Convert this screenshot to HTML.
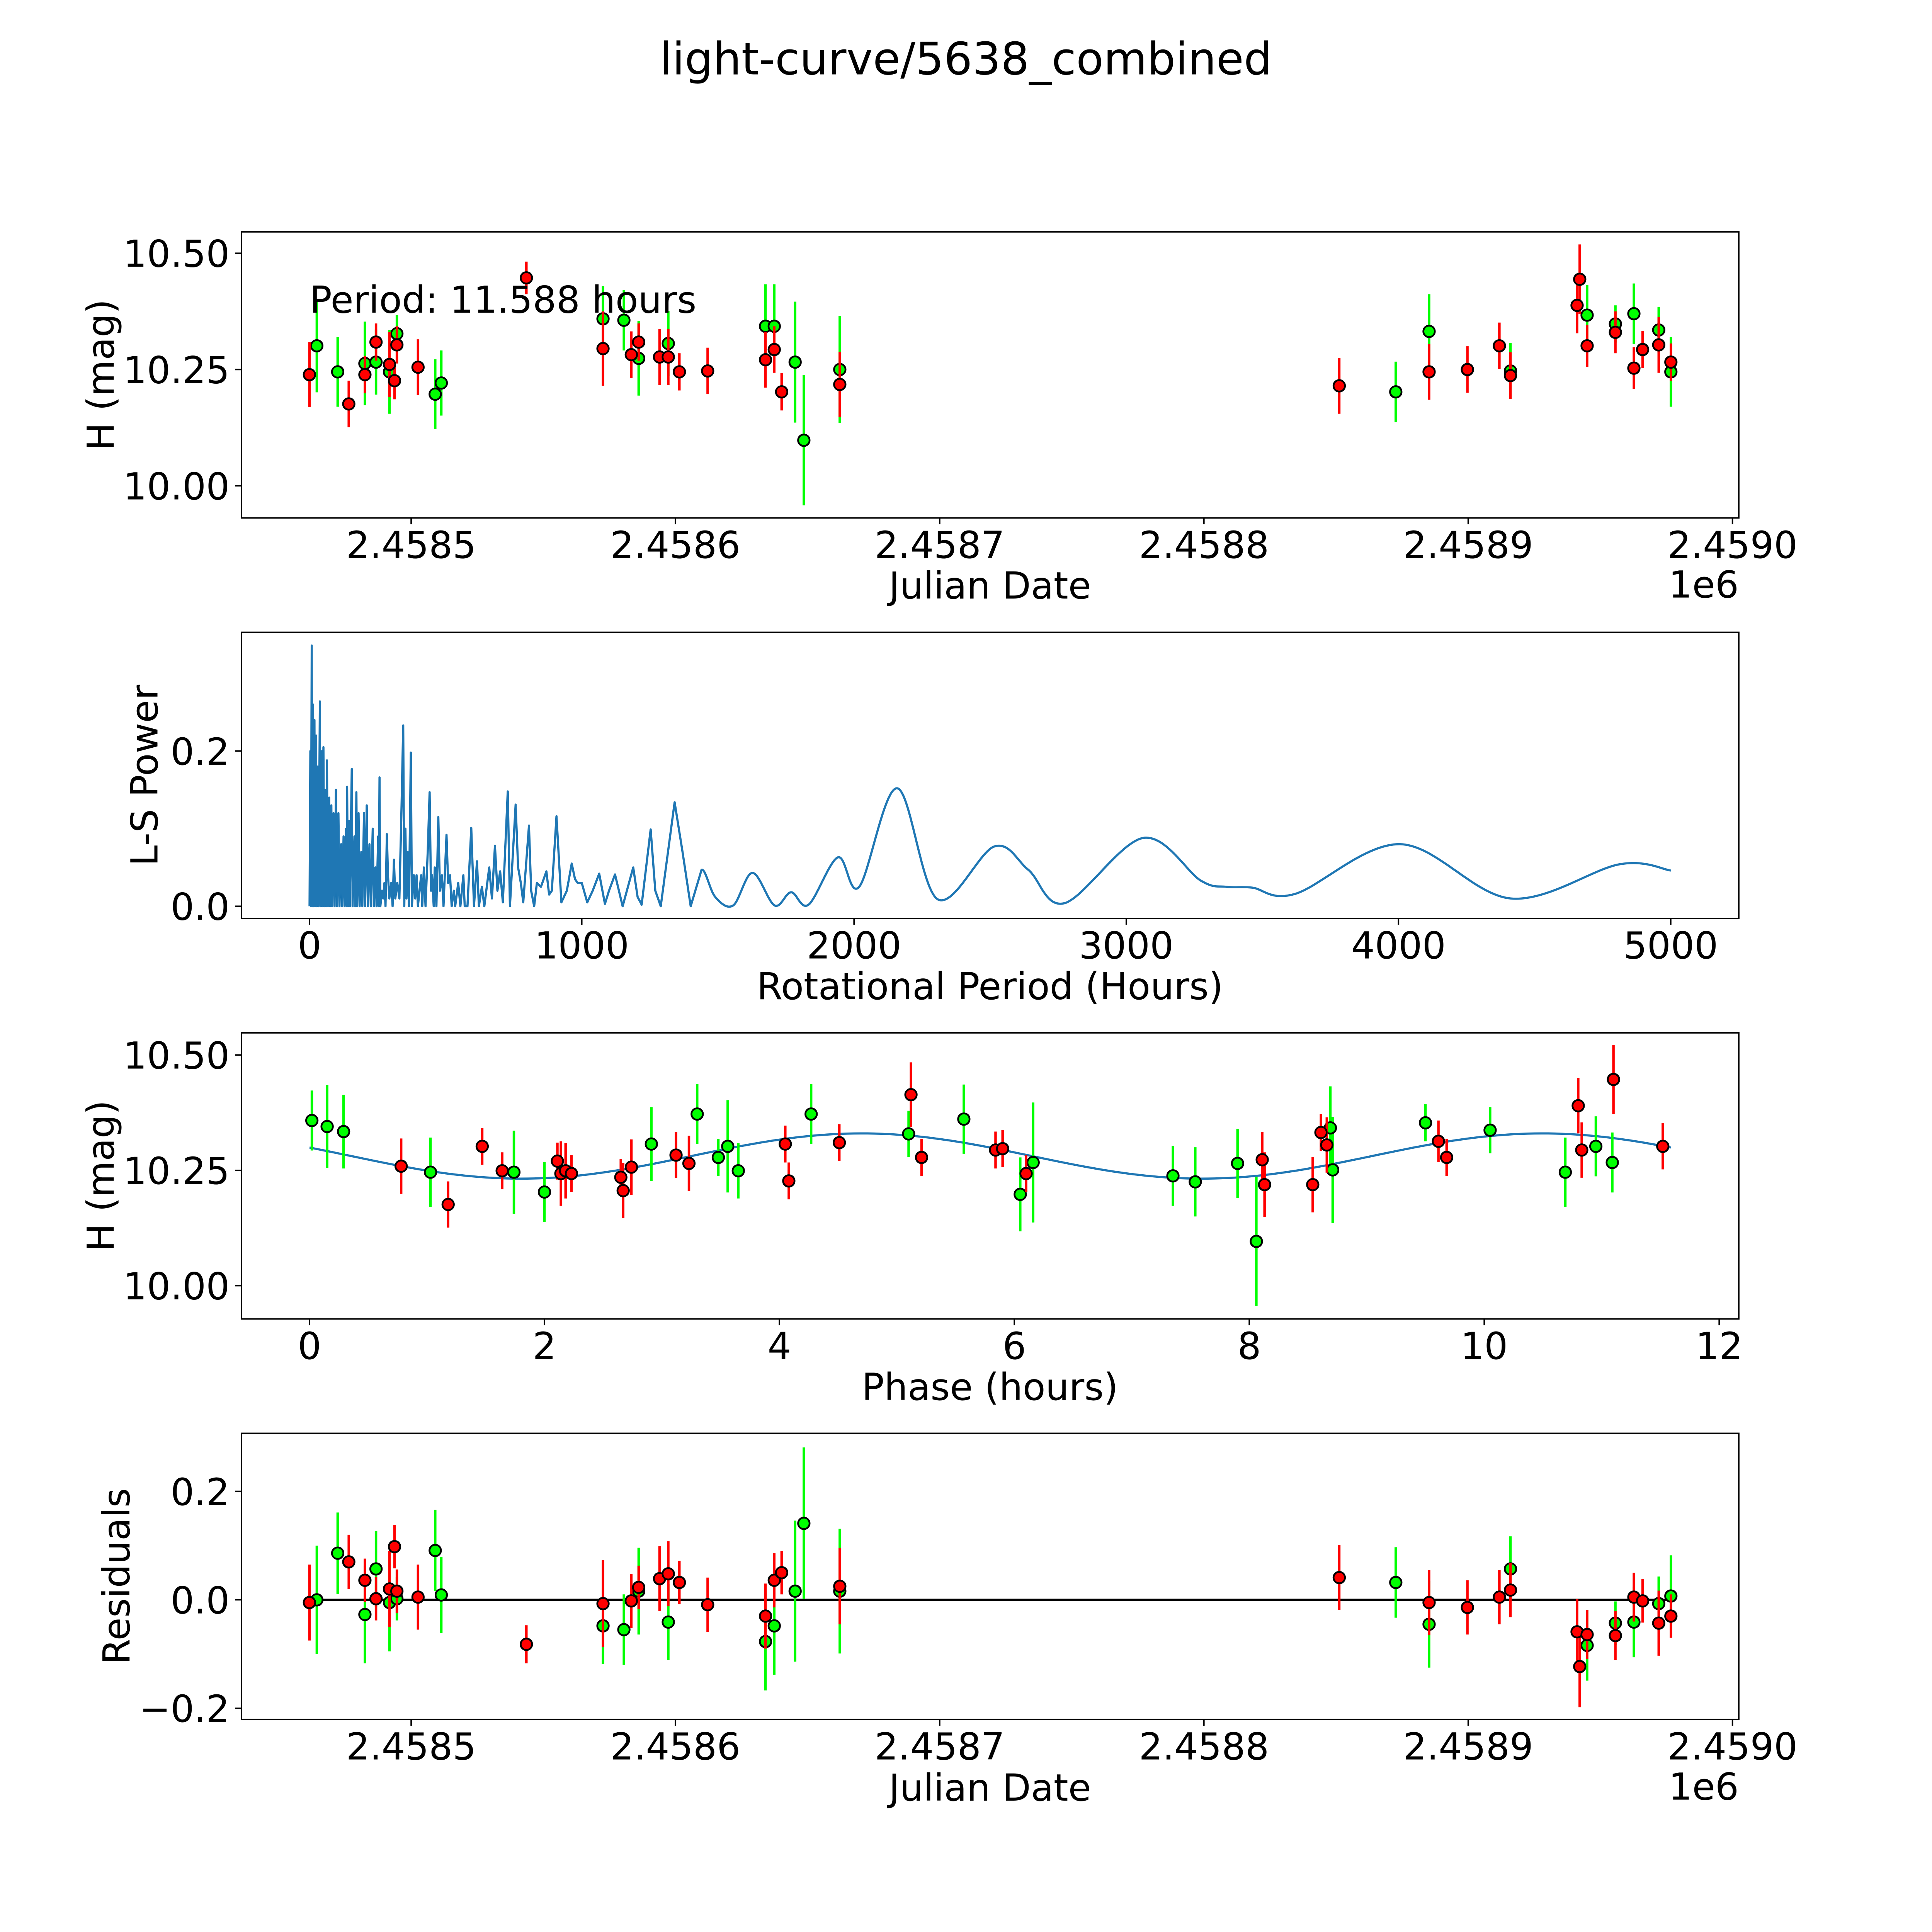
<!DOCTYPE html>
<html><head><meta charset="utf-8"><title>light-curve/5638_combined</title>
<style>
html,body{margin:0;padding:0;background:#fff;overflow:hidden;width:100vw;height:100vh;}
svg{display:block;width:100vw;height:100vh;font-family:"DejaVu Sans","Liberation Sans",sans-serif;}
</style></head>
<body>
<svg id="fig" xmlns="http://www.w3.org/2000/svg" viewBox="0 0 5400 5400" preserveAspectRatio="xMidYMid meet">
<rect x="0" y="0" width="5400" height="5400" fill="#fff"/>
<text x="2700" y="208" font-size="125" text-anchor="middle">light-curve/5638_combined</text>
</svg>
<script>
// ===== Data (JD offsets are days from 2458500) =====
const redJD = [-38.5,-23.6,-17.5,-13.3,-8.2,-6.3,-5.4,2.6,43.6,72.6,83.3,86.1,94.0,97.3,101.5,112.2,134.1,137.4,140.2,162.2,351.2,385.2,399.7,411.8,416.0,441.2,442.2,445.0,455.7,462.7,466.0,472.1,476.7];
const redH = [10.239,10.176,10.239,10.309,10.261,10.226,10.303,10.255,10.447,10.295,10.282,10.309,10.277,10.277,10.245,10.247,10.271,10.293,10.202,10.218,10.215,10.245,10.250,10.301,10.237,10.388,10.444,10.301,10.330,10.253,10.293,10.303,10.266];
const redErr = [0.07,0.05,0.04,0.04,0.07,0.04,0.04,0.06,0.035,0.08,0.05,0.04,0.06,0.06,0.04,0.05,0.06,0.05,0.04,0.07,0.06,0.06,0.05,0.05,0.05,0.06,0.075,0.045,0.045,0.045,0.04,0.06,0.04];
const redResid = [-0.005,0.07,0.036,0.002,0.02,0.098,0.016,0.005,-0.082,-0.007,-0.002,0.023,0.039,0.048,0.032,-0.009,-0.03,0.036,0.05,0.025,0.041,-0.005,-0.014,0.005,0.018,-0.059,-0.123,-0.064,-0.066,0.005,-0.002,-0.043,-0.03];

const greenJD = [-35.7,-27.8,-17.5,-13.3,-8.2,-5.4,9.1,11.4,72.6,80.5,86.1,97.3,134.1,137.4,145.3,148.6,162.2,372.6,385.2,416.0,445.0,455.7,462.7,472.1,476.7];
const greenH = [10.301,10.245,10.263,10.266,10.245,10.327,10.197,10.221,10.359,10.356,10.274,10.306,10.343,10.343,10.266,10.098,10.250,10.202,10.332,10.247,10.367,10.348,10.370,10.335,10.245];
const greenErr = [0.1,0.075,0.09,0.07,0.09,0.04,0.075,0.07,0.07,0.065,0.08,0.07,0.09,0.09,0.13,0.14,0.115,0.065,0.08,0.06,0.065,0.04,0.065,0.05,0.075];
const greenResid = [0,0.086,-0.027,0.057,-0.005,0.002,0.091,0.009,-0.048,-0.055,0.016,-0.041,-0.077,-0.048,0.016,0.141,0.016,0.032,-0.045,0.057,-0.084,-0.043,-0.041,-0.007,0.007];

// phase-folded (hours)
const redPhase = [0.78,1.18,1.47,1.64,2.11,2.14,2.18,2.23,2.65,2.67,2.74,3.12,3.23,4.05,4.08,4.51,5.12,5.21,5.84,5.90,6.10,8.11,8.13,8.54,8.61,8.66,9.61,9.68,10.80,10.83,11.10,11.52];
const redPhaseH = [10.259,10.176,10.302,10.249,10.270,10.243,10.249,10.243,10.235,10.206,10.257,10.283,10.265,10.307,10.227,10.310,10.414,10.278,10.294,10.297,10.243,10.273,10.219,10.219,10.332,10.305,10.313,10.278,10.390,10.294,10.447,10.302];
const redPhaseErr = [0.06,0.05,0.04,0.04,0.04,0.07,0.06,0.04,0.04,0.06,0.06,0.05,0.06,0.04,0.04,0.04,0.07,0.04,0.04,0.04,0.04,0.06,0.07,0.06,0.04,0.06,0.045,0.04,0.06,0.06,0.075,0.05];
const greenPhase = [0.02,0.15,0.29,1.03,1.74,2.00,2.91,3.30,3.48,3.56,3.65,4.27,5.10,5.57,6.05,6.16,7.35,7.54,7.90,8.06,8.69,8.71,9.50,10.05,10.69,10.95,11.09];
const greenPhaseH = [10.358,10.345,10.334,10.246,10.246,10.203,10.307,10.372,10.278,10.302,10.249,10.372,10.329,10.361,10.198,10.267,10.238,10.225,10.265,10.096,10.342,10.251,10.353,10.337,10.246,10.302,10.267];
const greenPhaseErr = [0.065,0.09,0.08,0.075,0.09,0.065,0.08,0.065,0.04,0.1,0.06,0.065,0.05,0.075,0.08,0.13,0.065,0.075,0.075,0.14,0.09,0.115,0.04,0.05,0.075,0.065,0.065];
const modelParams = [10.281, 0.049, 4.70, 11.588]; // mean, amplitude, phase of max, period (hours)

// Lomb-Scargle periodogram
const lsPeriod = [0,3,5,8,10,13,15,18,20,24,26,30,33,38,41,46,48,51,54,58,61,64,67,72,75,80,83,88,92,97,101,106,110,116,120,125,129,134,137,138,141,145,148,155,158,165,168,172,175,180,184,190,194,200,204,210,214,220,225,232,236,242,246,252,254,257,260,266,270,275,279,284,288,293,300,305,310,315,322,330,338,344,348,352,356,360,365,372,376,383,388,393,398,404,410,414,420,426,434,441,446,450,456,460,466,473,479,486,492,503,509,516,522,530,535,546,554,565,570,580,594,604,615,622,633,642,660,670,681,690,700,710,728,736,757,766,776,785,806,814,825,835,850,870,880,890,907,925,945,963,975,985,1000,1020,1040,1064,1085,1100,1122,1150,1189,1205,1220,1253,1270,1290,1341,1370,1400,1440,1490,1556,1627,1708,1769,1833,1941,2019,2159,2307,2515,2640,2774,3062,3274,3368,3462,3621,4006,4412,4811,5000];
const lsPower = [0,0.2,0,0.336,0,0.26,0,0.24,0,0.22,0,0.18,0,0.264,0,0.2,0,0.205,0,0.15,0,0.188,0,0.14,0,0.13,0,0.12,0,0.15,0,0.12,0,0.08,0,0.09,0,0.10,0,0.154,0,0.11,0,0.177,0,0.09,0,0.147,0,0.12,0,0.07,0,0.12,0,0.13,0,0.08,0,0.10,0,0.05,0,0.09,0,0.166,0,0.02,0.01,0.03,0,0.093,0.04,0.01,0.03,0,0.06,0.01,0.03,0.01,0.13,0.233,0,0.1,0.01,0.07,0,0.198,0,0.04,0.01,0.04,0,0.02,0.04,0,0.05,0,0.07,0.147,0.02,0.04,0,0.05,0,0.115,0.02,0.04,0,0.092,0.03,0.04,0,0.02,0,0.03,0,0.04,0,0,0.101,0,0.058,0,0.025,0,0.05,0.01,0.078,0.02,0.045,0.005,0.148,0,0.131,0.05,0.03,0.005,0.104,0.02,0,0.03,0.025,0.045,0.015,0.02,0.116,0.005,0.02,0.055,0.035,0.03,0.03,0.005,0.02,0.042,0.003,0.02,0.041,0,0.05,0.012,0.002,0.099,0.02,0,0.134,0.07,0,0.047,0.012,0.001,0.043,0.001,0.018,0.002,0.063,0.025,0.152,0.009,0.077,0.047,0.004,0.088,0.033,0.025,0.024,0.016,0.080,0.010,0.054,0.046];

const jdTicks = [0,100,200,300,400,500];
const jdTickLabels = ["2.4585","2.4586","2.4587","2.4588","2.4589","2.4590"];
const hTicks = [10.5,10.25,10.0];
const hTickLabels = ["10.50","10.25","10.00"];
const lsXTicks = [0,1000,2000,3000,4000,5000];
const lsYTicks = [0,0.2];
const lsYTickLabels = ["0.0","0.2"];
const phTicks = [0,2,4,6,8,10,12];
const resTicks = [0.2,0,-0.2];
const resTickLabels = ["0.2","0.0","\u22120.2"];

// ===== Layout =====
const NS = "http://www.w3.org/2000/svg";
const svg = document.getElementById('fig');
const L = 675, R = 4860, H = 799.6, FS = 104;
const tops = [648, 1767.4, 2886.8, 4006.2];
function el(tag, attrs, parent){ const e=document.createElementNS(NS,tag); for(const k in attrs) e.setAttribute(k,attrs[k]); (parent||svg).appendChild(e); return e; }
function scale(d0,d1,p0,p1){ return v => p0 + (v-d0)/(d1-d0)*(p1-p0); }

function axesFrame(i, name){
  const g = el('g',{});
  
  
  return g;
}
function spines(g, i){
  const r = el('rect',{x:L,y:tops[i],width:R-L,height:H,fill:'none',stroke:'#000','stroke-width':4},g);
  
  
}
function xTicks(g, i, vals, labels, xs, name){
  const yb = tops[i]+H;
  vals.forEach((v,k)=>{
    const x = xs(v);
    const t = el('line',{x1:x,x2:x,y1:yb,y2:yb+17.5,stroke:'#000','stroke-width':4},g);
    
    
    const tx = el('text',{x:x,y:yb+112,'font-size':FS,'text-anchor':'middle'},g);
    tx.textContent = labels[k];
    
    
  });
}
function yTicks(g, vals, labels, ys, name){
  vals.forEach((v,k)=>{
    const y = ys(v);
    const t = el('line',{x1:L,x2:L-17.5,y1:y,y2:y,stroke:'#000','stroke-width':4},g);
    
    
    const tx = el('text',{x:L-33,y:y+38,'font-size':FS,'text-anchor':'end'},g);
    tx.textContent = labels[k];
    
    
  });
}
function label(g, x, y, txt, rot, name){
  const a = {x:x,y:y,'font-size':FS,'text-anchor':'middle'};
  if(rot) a.transform = 'rotate(-90 '+x+' '+y+')';
  const t = el('text',a,g);
  t.textContent = txt;
  
  
}
function errPoints(g, xsArr, ysArr, errs, xs, ys, color, name){
  const ge = el('g',{},g);
  
  
  xsArr.forEach((v,k)=>{
    const x = xs(v);
    const b = el('line',{x1:x,x2:x,y1:ys(ysArr[k]-errs[k]),y2:ys(ysArr[k]+errs[k]),stroke:color,'stroke-width':7},ge);
    
    
  });
  const gm = el('g',{},g);
  
  
  xsArr.forEach((v,k)=>{
    const c = el('circle',{cx:xs(v),cy:ys(ysArr[k]),r:16,fill:color,stroke:'#000','stroke-width':5},gm);
    
    
  });
}

// ===== Panel 1: H vs JD =====
(function(){
  const i=0, g=axesFrame(i,'magnitude-vs-date-axes');
  const xs = scale(-64.2,502.4,L,R), ys = scale(9.931,10.546,tops[i]+H,tops[i]);
  errPoints(g, greenJD, greenH, greenErr, xs, ys, '#00ff00', 'green-series');
  errPoints(g, redJD, redH, redErr, xs, ys, '#ff0000', 'red-series');
  spines(g,i);
  xTicks(g,i,jdTicks,jdTickLabels,xs,'x-axis');
  yTicks(g,hTicks,hTickLabels,ys,'y-axis');
  label(g,2767,1673,'Julian Date',false,'x-axis-title');
  label(g,318,tops[i]+H/2,'H (mag)',true,'y-axis-title');
  const off = el('text',{x:R,y:1670,'font-size':FS,'text-anchor':'end'},g);
  off.textContent='1e6';
  
  
  const p = el('text',{x:865,y:874,'font-size':FS},g);
  p.textContent='Period: 11.588 hours';
  
  
})();

// ===== Panel 2: periodogram =====
(function(){
  const i=1, g=axesFrame(i,'periodogram-axes');
  const xs = scale(-250,5250,L,R), ys = scale(-0.0157,0.353,tops[i]+H,tops[i]);
  const pts = lsPeriod.map((p,k)=>[xs(p),ys(lsPower[k])]);
  let d = 'M'+pts[0][0].toFixed(1)+' '+pts[0][1].toFixed(1);
  for(let k=1;k<pts.length;k++){
    if(lsPeriod[k] <= 1450){ d += 'L'+pts[k][0].toFixed(1)+' '+pts[k][1].toFixed(1); continue; }
    const p0=pts[Math.max(k-2,0)], p1=pts[k-1], p2=pts[k], p3=pts[Math.min(k+1,pts.length-1)];
    const c1x=p1[0]+(p2[0]-p0[0])/6, c1y=p1[1]+(p2[1]-p0[1])/6;
    const c2x=p2[0]-(p3[0]-p1[0])/6, c2y=p2[1]-(p3[1]-p1[1])/6;
    d += 'C'+c1x.toFixed(1)+' '+c1y.toFixed(1)+' '+c2x.toFixed(1)+' '+c2y.toFixed(1)+' '+p2[0].toFixed(1)+' '+p2[1].toFixed(1);
  }
  const line = el('path',{d:d,fill:'none',stroke:'#1f77b4','stroke-width':6,'stroke-linejoin':'round'},g);
  
  
  spines(g,i);
  xTicks(g,i,lsXTicks,lsXTicks.map(String),xs,'x-axis');
  yTicks(g,lsYTicks,lsYTickLabels,ys,'y-axis');
  label(g,2767,2793,'Rotational Period (Hours)',false,'x-axis-title');
  label(g,440,tops[i]+H/2,'L-S Power',true,'y-axis-title');
})();

// ===== Panel 3: phase folded =====
(function(){
  const i=2, g=axesFrame(i,'phase-folded-axes');
  const xs = scale(-0.579,12.167,L,R), ys = scale(9.928,10.548,tops[i]+H,tops[i]);
  let d='';
  const n=200;
  for(let k=0;k<=n;k++){
    const t = modelParams[3]*k/n;
    const v = modelParams[0] + modelParams[1]*Math.cos(2*Math.PI*(t-modelParams[2])/(modelParams[3]/2));
    d += (k?'L':'M')+xs(t).toFixed(1)+' '+ys(v).toFixed(1);
  }
  const m = el('path',{d:d,fill:'none',stroke:'#1f77b4','stroke-width':6},g);
  
  
  errPoints(g, greenPhase, greenPhaseH, greenPhaseErr, xs, ys, '#00ff00', 'green-phase-series');
  errPoints(g, redPhase, redPhaseH, redPhaseErr, xs, ys, '#ff0000', 'red-phase-series');
  spines(g,i);
  xTicks(g,i,phTicks,phTicks.map(String),xs,'x-axis');
  yTicks(g,hTicks,hTickLabels,ys,'y-axis');
  label(g,2767,3913,'Phase (hours)',false,'x-axis-title');
  label(g,318,tops[i]+H/2,'H (mag)',true,'y-axis-title');
})();

// ===== Panel 4: residuals =====
(function(){
  const i=3, g=axesFrame(i,'residuals-axes');
  const xs = scale(-64.2,502.4,L,R), ys = scale(-0.2205,0.307,tops[i]+H,tops[i]);
  const allJD = redJD.concat(greenJD);
  const z = el('line',{x1:xs(Math.min(...allJD)),x2:xs(Math.max(...allJD)),y1:ys(0),y2:ys(0),stroke:'#000','stroke-width':6},g);
  
  
  errPoints(g, greenJD, greenResid, greenErr, xs, ys, '#00ff00', 'green-residual-series');
  errPoints(g, redJD, redResid, redErr, xs, ys, '#ff0000', 'red-residual-series');
  spines(g,i);
  xTicks(g,i,jdTicks,jdTickLabels,xs,'x-axis');
  yTicks(g,resTicks,resTickLabels,ys,'y-axis');
  label(g,2767,5033,'Julian Date',false,'x-axis-title');
  label(g,362,tops[i]+H/2,'Residuals',true,'y-axis-title');
  const off = el('text',{x:R,y:5030,'font-size':FS,'text-anchor':'end'},g);
  off.textContent='1e6';
  
  
})();
</script>
</body></html>
